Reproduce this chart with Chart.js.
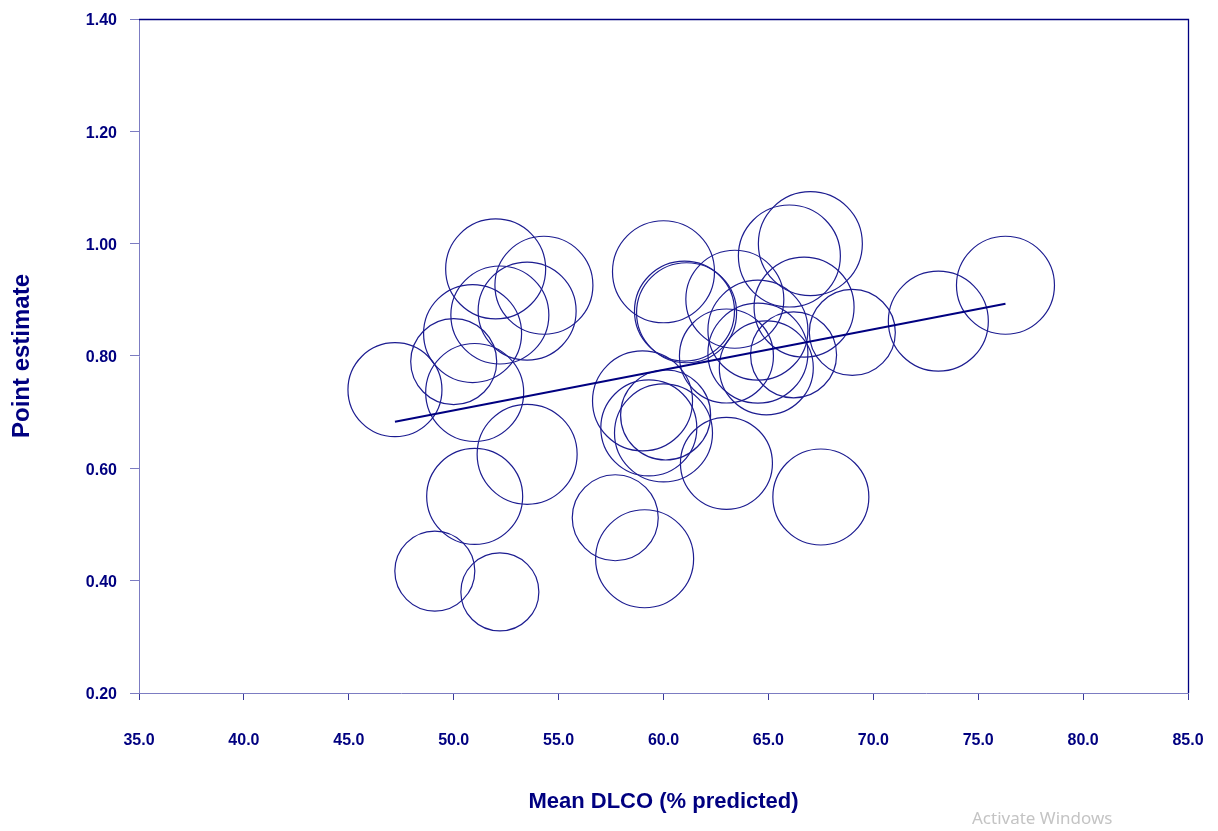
<!DOCTYPE html>
<html>
<head>
<meta charset="utf-8">
<title>Point estimate vs Mean DLCO</title>
<script src="https://cdn.jsdelivr.net/npm/chart.js@4.4.1/dist/chart.umd.min.js"></script>
<style>
    body { margin: 0; background: #fff; }
    #wrap { position: relative; width: 1218px; height: 831px; }
    #watermark {
        position: absolute; left: 972px; top: 806px;
        font-family: "Noto Sans", sans-serif; font-size: 17px; color: #c4c4c4;
    }
</style>
</head>
<body>
<div id="wrap">
    <canvas id="metaChart" width="1218" height="831"></canvas>
    <div id="watermark">Activate Windows</div>
</div>
<script>
// Study values: mean DLCO, point estimate, bubble radius (weight)
const dlco = [47.2, 50.0, 50.9, 51.0, 52.0, 52.2, 53.5, 54.3, 53.5, 51.0, 49.1, 52.2,
              57.7, 59.1, 63.0, 67.5, 59.0, 59.3, 60.0, 60.1, 60.0, 61.0, 61.1, 63.4,
              64.5, 63.0, 64.9, 66.2, 66.0, 67.0, 66.7, 69.0, 73.1, 76.3, 64.5];
const estimate = [0.740, 0.790, 0.840, 0.735, 0.955, 0.873, 0.880, 0.926, 0.625, 0.550, 0.417, 0.380,
                  0.512, 0.439, 0.609, 0.549, 0.720, 0.672, 0.663, 0.695, 0.950, 0.880, 0.877, 0.901,
                  0.846, 0.800, 0.779, 0.802, 0.978, 1.000, 0.887, 0.842, 0.862, 0.926, 0.805];
const weight = [47, 43, 49, 49, 50, 49, 49, 49, 50, 48, 40, 39,
                43, 49, 46, 48, 50, 48, 49, 45, 51, 50, 50, 49,
                50, 47, 47, 43, 51, 52, 50, 43, 50, 49, 50];

// Meta-regression line end points
const fitX = [47.2, 76.3];
const fitY = [0.683, 0.893];

const navy = "#000080";
const axisBlue = "#7c7cc2";
const tickFont = { family: "'Liberation Sans', Arial, sans-serif", size: 16, weight: "bold" };

const bubbles = dlco.map((x, i) => ({ x: x, y: estimate[i], r: weight[i] }));
const fitLine = fitX.map((x, i) => ({ x: x, y: fitY[i] }));

// top and right edges of the plot frame
const framePlugin = {
    id: "frame",
    afterDraw(chart) {
        const { ctx, chartArea: a } = chart;
        ctx.save();
        ctx.strokeStyle = navy;
        ctx.lineWidth = 1.3;
        ctx.beginPath();
        ctx.moveTo(a.left, a.top + 0.5);
        ctx.lineTo(a.right + 0.5, a.top + 0.5);
        ctx.lineTo(a.right + 0.5, a.bottom);
        ctx.stroke();
        ctx.restore();
    }
};

new Chart(document.getElementById("metaChart").getContext("2d"), {
    type: "bubble",
    data: {
        datasets: [
            {
                type: "line",
                data: fitLine,
                borderColor: navy,
                borderWidth: 2,
                pointRadius: 0,
                fill: false
            },
            {
                data: bubbles,
                borderColor: "#1c1c90",
                borderWidth: 1.2,
                backgroundColor: "rgba(0,0,0,0)",
                hoverRadius: 0
            }
        ]
    },
    options: {
        responsive: false,
        animation: false,
        events: [],
        layout: { autoPadding: false, padding: { top: 19, right: 30, left: 0, bottom: 0 } },
        plugins: { legend: { display: false }, tooltip: { enabled: false } },
        scales: {
            x: {
                type: "linear",
                min: 35, max: 85,
                afterFit: (scale) => {
                    scale.height = 138;
                    scale.paddingLeft = 0;
                    scale.paddingRight = 0;
                },
                border: { color: axisBlue, width: 1 },
                grid: { drawOnChartArea: false, tickLength: 7, color: "#3a3a9a" },
                ticks: {
                    stepSize: 5, padding: 31, color: navy, font: tickFont,
                    maxRotation: 0,
                    callback: (v) => v.toFixed(1)
                },
                title: {
                    display: true, text: "Mean DLCO (% predicted)", color: navy,
                    font: { family: "'Liberation Sans', Arial, sans-serif", size: 22, weight: "bold" },
                    padding: { top: 0, bottom: 16 }
                }
            },
            y: {
                type: "linear",
                min: 0.2, max: 1.4,
                afterFit: (scale) => {
                    scale.width = 139;
                    scale.paddingTop = 0;
                    scale.paddingBottom = 0;
                },
                border: { color: axisBlue, width: 1 },
                grid: { drawOnChartArea: false, tickLength: 9, color: axisBlue },
                ticks: {
                    stepSize: 0.2, padding: 13, labelOffset: 2, color: navy, font: tickFont,
                    callback: (v) => v.toFixed(2)
                },
                title: {
                    display: true, text: "Point estimate", color: navy,
                    font: { family: "'Liberation Sans', Arial, sans-serif", size: 24, weight: "bold" },
                    padding: { top: 8, bottom: 0 }
                }
            }
        }
    },
    plugins: [framePlugin]
});
</script>
</body>
</html>
